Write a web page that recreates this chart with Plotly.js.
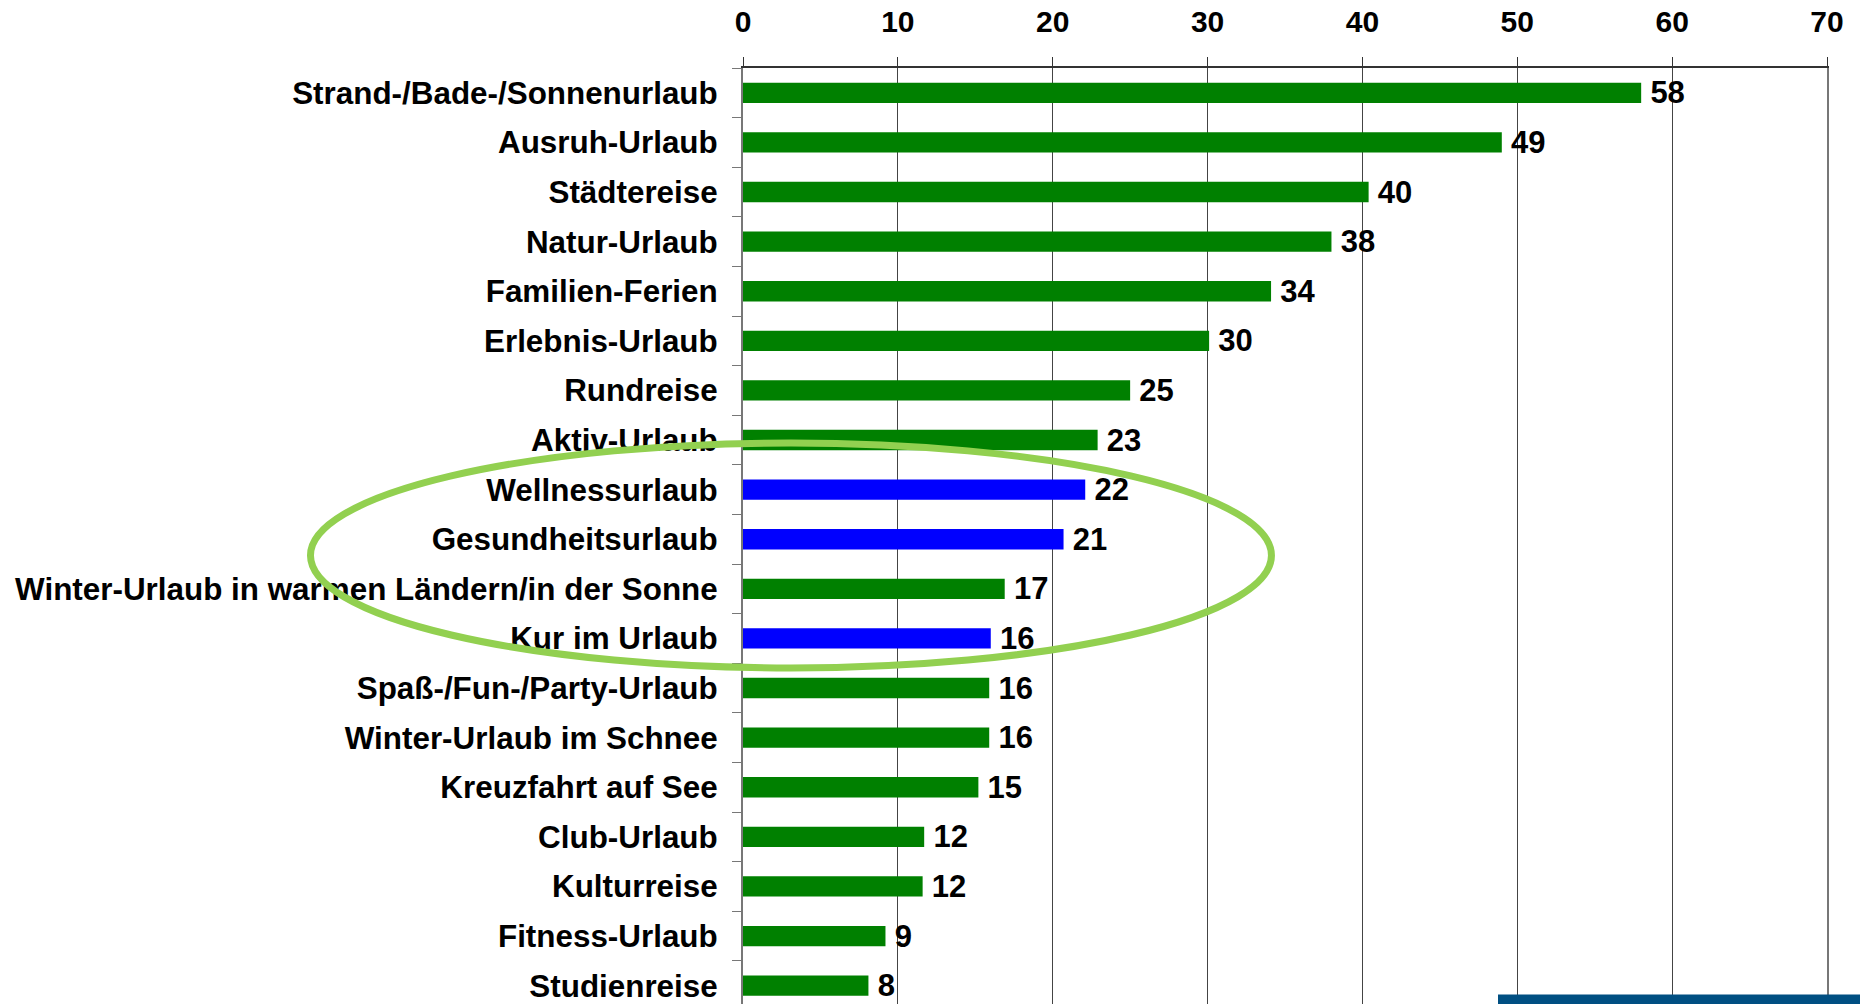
<!DOCTYPE html>
<html>
<head>
<meta charset="utf-8">
<script src="https://cdn.plot.ly/plotly-3.0.1.min.js"></script>
<style>
  html, body { margin: 0; padding: 0; background: #ffffff; }
  #chart { width: 1860px; height: 1004px; }
</style>
</head>
<body>
<div id="chart"></div>
<script>
const categories = [
  'Strand-/Bade-/Sonnenurlaub',
  'Ausruh-Urlaub',
  'Städtereise',
  'Natur-Urlaub',
  'Familien-Ferien',
  'Erlebnis-Urlaub',
  'Rundreise',
  'Aktiv-Urlaub',
  'Wellnessurlaub',
  'Gesundheitsurlaub',
  'Winter-Urlaub in warmen Ländern/in der Sonne',
  'Kur im Urlaub',
  'Spaß-/Fun-/Party-Urlaub',
  'Winter-Urlaub im Schnee',
  'Kreuzfahrt auf See',
  'Club-Urlaub',
  'Kulturreise',
  'Fitness-Urlaub',
  'Studienreise'
];

const values = [58.0, 49.0, 40.4, 38.0, 34.1, 30.1, 25.0, 22.9, 22.1, 20.7, 16.9, 16.0, 15.9, 15.9, 15.2, 11.7, 11.6, 9.2, 8.1];

const highlighted = ['Wellnessurlaub', 'Gesundheitsurlaub', 'Kur im Urlaub'];

const xTicks = [0, 10, 20, 30, 40, 50, 60, 70];

const fontFamily = '"Liberation Sans", Arial, sans-serif';
const green = '#008000';
const blue = '#0000ff';

const barColors = categories.map((name) => (highlighted.includes(name) ? blue : green));

const trace = {
  type: 'bar',
  orientation: 'h',
  y: categories,
  x: values,
  text: values.map((v) => '\u2009' + Math.round(v)),
  textposition: 'outside',
  constraintext: 'none',
  cliponaxis: false,
  textfont: { family: fontFamily, size: 31, color: '#000000', weight: 'bold' },
  marker: { color: barColors, line: { width: 0 } },
  hoverinfo: 'none'
};

const layout = {
  width: 1860,
  height: 1004,
  margin: { l: 743, r: 33, t: 68, b: 0, pad: 0 },
  paper_bgcolor: '#ffffff',
  plot_bgcolor: '#ffffff',
  showlegend: false,
  bargap: 0.59,
  xaxis: {
    side: 'top',
    range: [0, 70],
    tickvals: xTicks,
    ticktext: xTicks.map(String),
    showgrid: true,
    gridcolor: '#444444',
    gridwidth: 1,
    zeroline: false,
    showline: true,
    linecolor: '#333333',
    linewidth: 2,
    ticks: 'outside',
    ticklen: 9,
    tickwidth: 1,
    tickcolor: '#333333',
    ticklabelstandoff: 13,
    tickfont: { family: fontFamily, size: 30, color: '#000000', weight: 'bold' },
    fixedrange: true
  },
  yaxis: {
    type: 'category',
    autorange: false,
    range: [18.37, -0.5],
    showgrid: false,
    zeroline: false,
    showline: true,
    mirror: true,
    linecolor: '#777777',
    linewidth: 2,
    ticks: 'outside',
    tickson: 'boundaries',
    ticklen: 9,
    tickwidth: 1,
    tickcolor: '#777777',
    ticklabelstandoff: 17,
    tickfont: { family: fontFamily, size: 31.4, color: '#000000', weight: 'bold' },
    fixedrange: true
  },
  shapes: [
    {
      // highlight ring round the health-related bars
      type: 'circle',
      xref: 'paper',
      yref: 'paper',
      x0: -0.399,
      x1: 0.4875,
      y0: 0.359,
      y1: 0.5994,
      line: { color: '#92d050', width: 7 },
      fillcolor: 'rgba(0,0,0,0)',
      layer: 'above'
    },
    {
      // footer strip bottom right
      type: 'rect',
      xref: 'paper',
      yref: 'paper',
      x0: 0.6965,
      x1: 1.04,
      y0: -0.01,
      y1: 0.0101,
      line: { width: 0 },
      fillcolor: '#004f82',
      layer: 'above'
    }
  ]
};

Plotly.newPlot('chart', [trace], layout, { displayModeBar: false, staticPlot: true });
</script>
</body>
</html>
